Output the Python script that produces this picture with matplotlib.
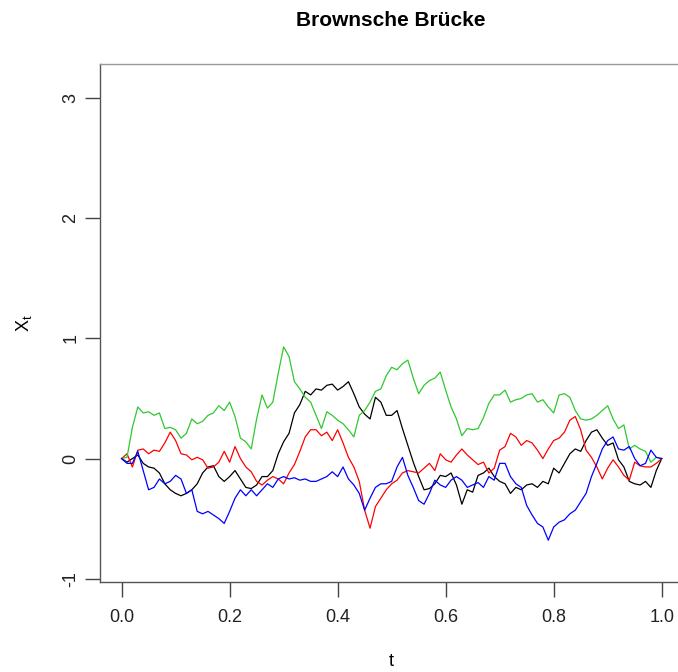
import numpy as np
import matplotlib
matplotlib.use("Agg")
import matplotlib.pyplot as plt

plt.rcParams['font.family'] = ['Liberation Sans', 'DejaVu Sans']
plt.rcParams['mathtext.fontset'] = 'custom'
plt.rcParams['mathtext.rm'] = 'Liberation Sans'

# time grid and four bridge paths (step 0.01)
t = np.linspace(0, 1, 101)

x_black = [0.00, -0.03, 0.00, 0.03, -0.04, -0.07, -0.08, -0.12, -0.21, -0.26,
           -0.29, -0.31, -0.29, -0.26, -0.21, -0.12, -0.07, -0.06, -0.15, -0.19,
           -0.15, -0.10, -0.17, -0.24, -0.25, -0.22, -0.15, -0.15, -0.10, 0.04,
           0.14, 0.21, 0.38, 0.45, 0.56, 0.53, 0.58, 0.57, 0.61, 0.62,
           0.57, 0.60, 0.64, 0.54, 0.43, 0.37, 0.33, 0.51, 0.47, 0.36,
           0.36, 0.40, 0.25, 0.11, -0.03, -0.15, -0.26, -0.25, -0.21, -0.14,
           -0.15, -0.12, -0.22, -0.38, -0.26, -0.28, -0.14, -0.12, -0.08, -0.15,
           -0.19, -0.21, -0.29, -0.24, -0.26, -0.22, -0.21, -0.24, -0.19, -0.21,
           -0.08, -0.12, -0.04, 0.04, 0.08, 0.06, 0.15, 0.22, 0.24, 0.17,
           0.11, 0.13, -0.01, -0.07, -0.19, -0.21, -0.22, -0.19, -0.24, -0.10,
           0.00]

x_red = [0.00, 0.04, -0.07, 0.07, 0.08, 0.04, 0.07, 0.06, 0.13, 0.22,
         0.15, 0.04, 0.03, -0.01, 0.01, -0.01, -0.08, -0.07, -0.03, 0.06,
         -0.03, 0.10, 0.00, -0.07, -0.11, -0.19, -0.22, -0.18, -0.15, -0.17,
         -0.21, -0.12, -0.05, 0.06, 0.18, 0.24, 0.24, 0.19, 0.22, 0.15,
         0.24, 0.13, 0.01, -0.07, -0.19, -0.43, -0.58, -0.40, -0.33, -0.26,
         -0.21, -0.18, -0.12, -0.10, -0.11, -0.12, -0.08, -0.04, -0.10, 0.04,
         -0.01, -0.03, 0.03, 0.08, 0.03, -0.01, -0.05, -0.03, -0.12, -0.08,
         0.07, 0.10, 0.21, 0.18, 0.11, 0.15, 0.13, 0.07, 0.00, 0.08,
         0.15, 0.17, 0.22, 0.32, 0.35, 0.24, 0.07, 0.01, -0.07, -0.17,
         -0.08, -0.01, -0.07, -0.14, -0.18, -0.03, -0.06, -0.07, -0.07, -0.04,
         0.00]

x_green = [0.00, 0.01, 0.26, 0.43, 0.38, 0.39, 0.36, 0.38, 0.25, 0.26,
           0.24, 0.17, 0.21, 0.33, 0.29, 0.31, 0.36, 0.38, 0.44, 0.40,
           0.47, 0.35, 0.17, 0.14, 0.08, 0.33, 0.53, 0.42, 0.47, 0.71,
           0.93, 0.85, 0.64, 0.58, 0.51, 0.47, 0.36, 0.25, 0.39, 0.36,
           0.32, 0.29, 0.24, 0.18, 0.36, 0.40, 0.47, 0.56, 0.58, 0.69,
           0.76, 0.74, 0.79, 0.82, 0.67, 0.54, 0.61, 0.65, 0.67, 0.72,
           0.57, 0.43, 0.33, 0.19, 0.25, 0.24, 0.25, 0.34, 0.46, 0.53,
           0.53, 0.57, 0.47, 0.49, 0.50, 0.53, 0.54, 0.47, 0.49, 0.43,
           0.38, 0.53, 0.54, 0.51, 0.40, 0.33, 0.32, 0.33, 0.36, 0.40,
           0.44, 0.33, 0.25, 0.28, 0.08, 0.11, 0.08, 0.06, -0.03, 0.01,
           0.00]

x_blue = [0.00, -0.04, -0.04, 0.06, -0.10, -0.26, -0.24, -0.17, -0.21, -0.19,
          -0.14, -0.17, -0.29, -0.26, -0.44, -0.46, -0.44, -0.47, -0.50, -0.54,
          -0.44, -0.33, -0.26, -0.31, -0.26, -0.31, -0.26, -0.21, -0.24, -0.17,
          -0.15, -0.17, -0.16, -0.18, -0.17, -0.19, -0.19, -0.17, -0.15, -0.11,
          -0.15, -0.07, -0.17, -0.22, -0.29, -0.43, -0.33, -0.24, -0.21, -0.21,
          -0.19, -0.07, 0.01, -0.14, -0.24, -0.35, -0.38, -0.29, -0.18, -0.22,
          -0.24, -0.18, -0.15, -0.18, -0.24, -0.22, -0.20, -0.24, -0.15, -0.18,
          -0.04, -0.04, -0.15, -0.21, -0.24, -0.39, -0.47, -0.54, -0.57, -0.68,
          -0.57, -0.53, -0.51, -0.46, -0.43, -0.36, -0.29, -0.15, -0.04, 0.08,
          0.15, 0.18, 0.08, 0.07, 0.10, 0.00, -0.06, -0.04, 0.07, 0.01,
          0.00]

xticks = [0.0, 0.2, 0.4, 0.6, 0.8, 1.0]
yticks = [-1, 0, 1, 2, 3]

fig = plt.figure(figsize=(6.78, 6.72), dpi=100)
ax = fig.add_axes([100 / 678, 1 - 582 / 672, 583.3 / 678, 518 / 672])

ax.plot(t, x_black, color='black', lw=0.9)
ax.plot(t, x_red, color='#ff0000', lw=0.9)
ax.plot(t, x_green, color='#2fc82f', lw=0.9)
ax.plot(t, x_blue, color='#0000ff', lw=0.9)

ax.set_xlim(-0.04, 1.04)
ax.set_ylim(-1.028, 3.286)

ax.set_xticks(xticks)
ax.set_xticklabels(['%.1f' % v for v in xticks])
ax.set_yticks(yticks)
ax.set_yticklabels([str(v) for v in yticks], rotation=90, va='center')
ax.tick_params(axis='both', length=11, width=1, color='#444444',
               labelsize=13, labelcolor='#222222', direction='out')
ax.tick_params(axis='x', pad=8.5)
ax.tick_params(axis='y', pad=4)

for s in ax.spines.values():
    s.set_color('#999999')
    s.set_linewidth(1)
ax.spines['left'].set_color('#555555')
ax.spines['bottom'].set_color('#555555')

fig.text(391 / 678, 1 - 21 / 672, 'Brownsche Brücke', ha='center', va='center',
         fontsize=15, fontweight='bold')
fig.text(391.5 / 678, 1 - 662 / 672, 't', ha='center', va='center', fontsize=13)
fig.text(24 / 678, 1 - 323 / 672, r'$\mathrm{X}_\mathrm{t}$', ha='center', va='center',
         fontsize=13, rotation=90)

fig.savefig('out.png', dpi=100)
